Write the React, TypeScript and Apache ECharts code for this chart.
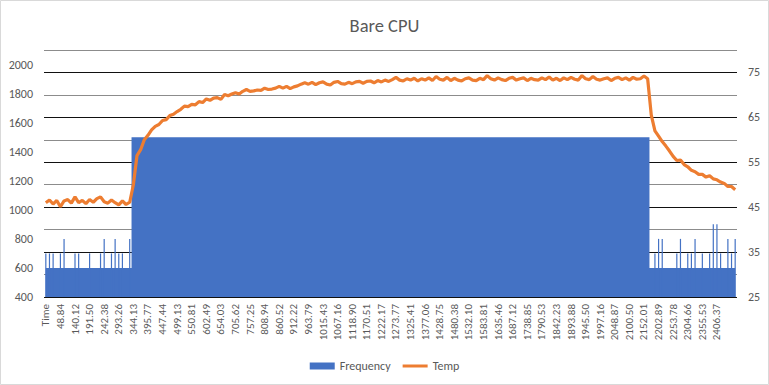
import React, { useEffect, useRef } from "react";
import * as echarts from "echarts";

const TITLE = "Bare CPU";

const TIME_LABELS = [
  "Time", "48.84", "140.12", "191.50", "242.38", "293.26", "344.13", "395.77", "447.44", "499.13",
  "550.81", "602.49", "654.03", "705.62", "757.25", "808.94", "860.52", "912.22", "963.79", "1015.43",
  "1067.16", "1118.90", "1170.51", "1222.17", "1273.77", "1325.41", "1377.06", "1428.75", "1480.38", "1532.10",
  "1583.81", "1635.46", "1687.12", "1738.85", "1790.53", "1842.23", "1893.88", "1945.50", "1997.16", "2048.87",
  "2100.50", "2152.01", "2202.89", "2253.78", "2304.66", "2355.53", "2406.37",
];
const LABEL_STEP = 4;

// CPU frequency (MHz)
const FREQ = [
  700, 700, 700, 600, 700, 800, 600, 600, 700, 700, 600, 600, 700, 600, 600, 700, 800, 600, 700, 800,
  700, 700, 600, 800,
  1500, 1500, 1500, 1500, 1500, 1500, 1500, 1500, 1500, 1500, 1500, 1500, 1500, 1500, 1500, 1500, 1500, 1500, 1500, 1500,
  1500, 1500, 1500, 1500, 1500, 1500, 1500, 1500, 1500, 1500, 1500, 1500, 1500, 1500, 1500, 1500, 1500, 1500, 1500, 1500,
  1500, 1500, 1500, 1500, 1500, 1500, 1500, 1500, 1500, 1500, 1500, 1500, 1500, 1500, 1500, 1500, 1500, 1500, 1500, 1500,
  1500, 1500, 1500, 1500, 1500, 1500, 1500, 1500, 1500, 1500, 1500, 1500, 1500, 1500, 1500, 1500, 1500, 1500, 1500, 1500,
  1500, 1500, 1500, 1500, 1500, 1500, 1500, 1500, 1500, 1500, 1500, 1500, 1500, 1500, 1500, 1500, 1500, 1500, 1500, 1500,
  1500, 1500, 1500, 1500, 1500, 1500, 1500, 1500, 1500, 1500, 1500, 1500, 1500, 1500, 1500, 1500, 1500, 1500, 1500, 1500,
  1500, 1500, 1500, 1500, 1500, 1500, 1500, 1500, 1500, 1500, 1500, 1500, 1500, 1500, 1500, 1500, 1500, 1500, 1500, 1500,
  1500, 1500,
  600, 700, 800, 800, 600, 600, 600, 700, 800, 600, 700, 700, 800, 600, 700, 600, 700, 900, 900, 700,
  600, 800, 700, 800,
];

// Temperature (°C)
const TEMP = [
  46.0, 46.6, 45.7, 46.5, 45.1, 46.4, 46.7, 45.9, 47.3, 46.0, 46.5, 45.8, 46.7, 46.1, 46.9, 47.3, 46.2, 45.9, 46.6, 46.0,
  45.5, 46.4, 45.6, 46.1,
  50.0, 56.5, 57.8, 60.0, 61.0, 62.2, 63.0, 63.4, 64.3, 64.5, 65.4, 65.7, 66.3, 66.8, 67.5, 67.4, 67.9, 67.8, 68.5, 68.3,
  69.1, 68.8, 69.3, 69.4, 69.0, 70.1, 69.8, 70.2, 70.5, 70.2, 70.8, 71.2, 70.8, 70.9, 71.1, 71.0, 71.5, 71.2, 71.3, 71.5,
  71.9,
  71.5, 71.9, 71.4, 71.8, 72.0, 72.4, 72.7, 72.4, 72.8, 72.3, 72.7, 72.9, 72.4, 72.2, 72.8, 73.0, 72.5, 72.4, 72.8, 72.5,
  72.9, 73.0, 72.6, 73.0, 73.1, 72.7, 73.2, 72.9, 73.3, 73.0, 73.4, 73.9, 73.3, 73.1, 73.6,
  73.3, 73.7, 73.1, 73.6, 73.3, 73.8, 73.2, 74.1, 73.5, 73.3,
  73.9, 73.2, 73.7, 73.3, 73.1, 73.6, 73.8, 73.3, 73.2, 73.7,
  73.4, 74.3, 73.6, 73.3, 73.8, 73.4, 73.2, 73.7, 73.9, 73.3,
  73.6, 73.8, 73.2, 73.7, 73.4, 73.3, 73.8, 73.4, 74.0, 73.3,
  73.7, 73.2, 73.8, 73.4, 73.9, 73.5, 73.3, 74.3, 73.6, 73.4,
  74.1, 73.5, 73.3, 73.6, 73.8, 73.2, 73.7, 73.9, 73.4, 73.8,
  73.3, 73.9, 73.5, 73.6, 74.2, 73.6,
  65.5, 62.0, 60.8, 59.6, 58.6, 57.5, 56.3, 55.4, 55.5, 54.5, 54.0, 53.2, 52.9, 52.3, 52.3, 51.7, 52.0, 51.3, 51.1, 50.6,
  50.3, 49.6, 49.6, 48.9,
];

const BASE_FREQ = 600;
const PEAK_FREQ = 1500;

const FONT = "Carlito, Calibri, Lato, 'Open Sans', sans-serif";
const TEXT_COLOR = "#595959";
const BAR_COLOR = "#4472C4";
const LINE_COLOR = "#ED7D31";

export default function App() {
  const ref = useRef<HTMLDivElement>(null);

  useEffect(() => {
    if (!ref.current) return;
    const chart = echarts.init(ref.current, undefined, { renderer: "svg" });

    const categories = TEMP.map((_, i) =>
      i % LABEL_STEP === 0 ? TIME_LABELS[i / LABEL_STEP] ?? "" : ""
    );
    const mainLevels = FREQ.map((v) => (v > BASE_FREQ && v < PEAK_FREQ ? BASE_FREQ : v));
    const spikeBars = FREQ.map((v) => (v > BASE_FREQ && v < PEAK_FREQ ? v : "-"));

    chart.setOption({
      animation: false,
      backgroundColor: "#ffffff",
      textStyle: { fontFamily: FONT },
      title: {
        text: TITLE,
        left: "center",
        top: 11,
        textStyle: { fontFamily: FONT, fontSize: 18.5, fontWeight: "normal", color: TEXT_COLOR },
      },
      legend: {
        left: "center",
        top: 355,
        itemWidth: 25,
        itemHeight: 7,
        itemGap: 12,
        symbolKeepAspect: true,
        textStyle: { fontFamily: FONT, fontSize: 12, color: TEXT_COLOR },
        data: [
          { name: "Frequency", icon: "rect", itemStyle: { color: BAR_COLOR, borderWidth: 0 } },
          { name: "Temp", icon: "path://M0,0H25V3H0Z", itemStyle: { color: LINE_COLOR, borderWidth: 0 } },
        ],
      },
      grid: { left: 44, right: 32, top: 50, bottom: 88, containLabel: false },
      xAxis: {
        type: "category",
        data: categories,
        boundaryGap: true,
        axisLine: { show: false },
        axisTick: { show: false },
        splitLine: { show: false },
        axisLabel: {
          interval: LABEL_STEP - 1,
          rotate: 90,
          fontFamily: FONT,
          fontSize: 11,
          color: TEXT_COLOR,
          margin: 7,
        },
      },
      yAxis: [
        {
          type: "value",
          min: 400,
          max: 2100,
          interval: 200,
          axisLine: { show: false },
          axisTick: { show: false },
          splitLine: { show: false },
          axisLabel: {
            fontFamily: FONT,
            fontSize: 12,
            color: TEXT_COLOR,
            margin: 11,
            formatter: (v: number) => (v > 2000 ? "" : String(v)),
          },
        },
        {
          type: "value",
          min: 25,
          max: 80,
          interval: 5,
          position: "right",
          axisLine: { show: false },
          axisTick: { show: false },
          splitLine: {
            show: true,
            lineStyle: { color: ["#111111", "#8c8c8c"], width: 1 },
          },
          axisLabel: {
            fontFamily: FONT,
            fontSize: 12,
            color: TEXT_COLOR,
            margin: 11,
            formatter: (v: number) => ((v - 25) % 10 === 0 && v < 80 ? String(v) : ""),
          },
        },
      ],
      series: [
        {
          name: "Frequency",
          type: "line",
          yAxisIndex: 0,
          data: mainLevels,
          step: "middle",
          symbol: "none",
          showSymbol: false,
          lineStyle: { width: 0, color: BAR_COLOR },
          itemStyle: { color: BAR_COLOR },
          areaStyle: { color: BAR_COLOR, opacity: 1, origin: "start" },
          z: 2,
        },
        {
          name: "Frequency",
          type: "bar",
          yAxisIndex: 0,
          data: spikeBars,
          barWidth: 1.2,
          clip: true,
          itemStyle: { color: BAR_COLOR },
          z: 2,
        },
        {
          name: "Temp",
          type: "line",
          yAxisIndex: 1,
          data: TEMP,
          symbol: "none",
          showSymbol: false,
          smooth: false,
          lineStyle: { color: LINE_COLOR, width: 3.2 },
          itemStyle: { color: LINE_COLOR },
          z: 5,
        },
      ],
      graphic: [
        {
          type: "rect",
          silent: true,
          shape: { x: 0.5, y: 0.5, width: 768, height: 384 },
          style: { fill: "none", stroke: "#d9d9d9", lineWidth: 1 },
        },
      ],
    });

    return () => chart.dispose();
  }, []);

  return (
    <div
      ref={ref}
      style={{ position: "fixed", left: 0, top: 0, width: 769, height: 385 }}
    />
  );
}
